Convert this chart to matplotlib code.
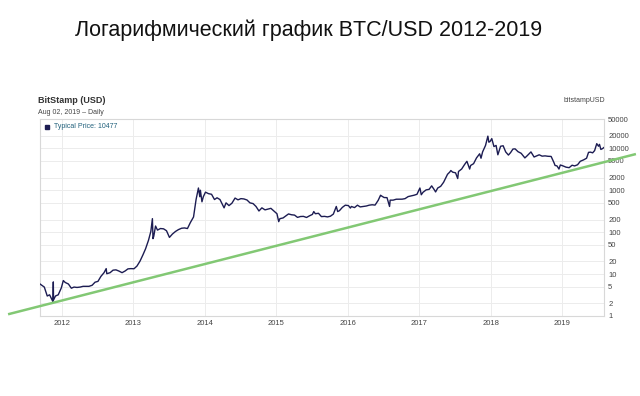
import pandas as pd
import matplotlib
matplotlib.use("Agg")
import matplotlib.pyplot as plt
import matplotlib.dates as mdates

plt.rcParams['font.family'] = ['Liberation Sans', 'DejaVu Sans']

# BTC/USD typical price (Bitstamp)
price_dates = [
    "2011-09-13", "2011-09-25", "2011-10-05", "2011-10-20", "2011-11-01", "2011-11-18",
    "2011-11-20", "2011-11-21", "2011-12-01", "2011-12-15", "2011-12-31",
    "2012-01-10", "2012-01-20", "2012-02-05", "2012-02-20", "2012-03-05", "2012-03-20",
    "2012-04-05", "2012-04-20", "2012-05-05", "2012-05-20", "2012-06-05", "2012-06-20",
    "2012-07-05", "2012-07-20", "2012-08-05", "2012-08-16", "2012-08-19", "2012-09-05",
    "2012-09-20", "2012-10-05", "2012-10-20", "2012-11-05", "2012-11-20", "2012-12-05",
    "2012-12-20", "2013-01-05", "2013-01-20", "2013-02-05", "2013-02-20", "2013-03-05",
    "2013-03-20", "2013-04-01", "2013-04-09", "2013-04-12", "2013-04-16", "2013-04-25",
    "2013-05-05", "2013-05-20", "2013-06-05", "2013-06-20", "2013-07-05", "2013-07-20",
    "2013-08-05", "2013-08-20", "2013-09-05", "2013-09-20", "2013-10-05", "2013-10-20",
    "2013-11-05", "2013-11-18", "2013-11-30", "2013-12-07", "2013-12-10", "2013-12-18",
    "2013-12-25", "2014-01-05", "2014-01-20", "2014-02-05", "2014-02-20", "2014-03-05",
    "2014-03-20", "2014-04-10", "2014-04-20", "2014-05-05", "2014-05-20", "2014-06-05",
    "2014-06-20", "2014-07-05", "2014-07-20", "2014-08-05", "2014-08-20", "2014-09-05",
    "2014-09-20", "2014-10-05", "2014-10-20", "2014-11-05", "2014-11-20", "2014-12-05",
    "2014-12-20", "2015-01-05", "2015-01-14", "2015-01-20", "2015-02-05", "2015-02-20",
    "2015-03-05", "2015-03-20", "2015-04-05", "2015-04-20", "2015-05-05", "2015-05-20",
    "2015-06-05", "2015-06-20", "2015-07-05", "2015-07-12", "2015-07-20", "2015-08-05",
    "2015-08-20", "2015-09-05", "2015-09-20", "2015-10-05", "2015-10-20", "2015-11-04",
    "2015-11-11", "2015-11-20", "2015-12-05", "2015-12-20", "2016-01-05", "2016-01-15",
    "2016-01-20", "2016-02-05", "2016-02-20", "2016-03-05", "2016-03-20", "2016-04-05",
    "2016-04-20", "2016-05-05", "2016-05-20", "2016-06-05", "2016-06-17", "2016-06-20",
    "2016-07-05", "2016-07-20", "2016-08-02", "2016-08-05", "2016-08-20", "2016-09-05",
    "2016-09-20", "2016-10-05", "2016-10-20", "2016-11-05", "2016-11-20", "2016-12-05",
    "2016-12-20", "2017-01-04", "2017-01-11", "2017-01-20", "2017-02-05", "2017-02-20",
    "2017-03-05", "2017-03-20", "2017-03-25", "2017-04-05", "2017-04-20", "2017-05-05",
    "2017-05-25", "2017-06-05", "2017-06-11", "2017-06-20", "2017-07-05", "2017-07-16",
    "2017-07-20", "2017-08-05", "2017-08-20", "2017-09-01", "2017-09-15", "2017-09-20",
    "2017-10-05", "2017-10-20", "2017-11-05", "2017-11-12", "2017-11-20", "2017-12-05",
    "2017-12-17", "2017-12-22", "2017-12-28", "2018-01-06", "2018-01-17", "2018-01-28",
    "2018-02-06", "2018-02-20", "2018-03-05", "2018-03-18", "2018-04-01", "2018-04-12",
    "2018-04-24", "2018-05-05", "2018-05-20", "2018-06-05", "2018-06-24", "2018-07-05",
    "2018-07-25", "2018-08-10", "2018-08-20", "2018-09-05", "2018-09-20", "2018-10-05",
    "2018-10-20", "2018-11-05", "2018-11-20", "2018-11-25", "2018-12-05", "2018-12-15",
    "2018-12-22", "2019-01-05", "2019-01-20", "2019-02-05", "2019-02-20", "2019-03-05",
    "2019-03-20", "2019-04-03", "2019-04-20", "2019-05-05", "2019-05-15", "2019-05-25",
    "2019-06-05", "2019-06-15", "2019-06-26", "2019-07-05", "2019-07-10", "2019-07-17",
    "2019-07-25", "2019-08-02",
]
price_values = [
    5.8, 5.3, 4.9, 3.0, 3.2, 2.2,
    6.5, 2.4, 3.0, 3.2, 4.7,
    7.0, 6.3, 5.8, 4.6, 4.9, 4.8,
    4.9, 5.1, 5.1, 5.1, 5.4, 6.4,
    6.7, 8.8, 10.8, 13.5, 10.2, 10.8,
    12.4, 12.6, 11.8, 10.8, 11.8, 13.3,
    13.5, 13.4, 15.5, 20.5, 29, 40,
    64, 104, 210, 70, 80, 140,
    112, 122, 120, 108, 75, 90,
    104, 115, 124, 126, 122, 170,
    230, 600, 1130, 700, 1000, 530,
    700, 900, 830, 800, 600, 660,
    600, 380, 500, 430, 490, 650,
    590, 630, 620, 585, 500, 480,
    410, 320, 380, 340, 355, 370,
    320, 275, 178, 210, 218, 245,
    272, 260, 255, 225, 236, 238,
    224, 245, 265, 310, 275, 282,
    235, 238, 231, 240, 270, 410,
    310, 325, 390, 440, 430, 375,
    410, 385, 440, 400, 410, 420,
    440, 450, 442, 575, 760, 740,
    670, 665, 410, 580, 580, 610,
    610, 612, 630, 705, 730, 760,
    800, 1130, 780, 895, 1020, 1050,
    1270, 1000, 910, 1130, 1240, 1550,
    2400, 2700, 2950, 2700, 2600, 1900,
    2800, 3200, 4100, 4900, 3200, 3900,
    4300, 5900, 7400, 5800, 8200, 11700,
    19500, 14000, 14500, 17000, 11000, 11700,
    7000, 11200, 11500, 8200, 6900, 7900,
    9600, 9700, 8300, 7600, 5900, 6600,
    8200, 6200, 6500, 7000, 6500, 6600,
    6450, 6400, 4500, 3900, 3800, 3200,
    4000, 3800, 3550, 3450, 3950, 3800,
    4050, 4900, 5300, 5800, 8000, 8100,
    7800, 8800, 12900, 11200, 12400, 9400,
    9800, 10477,
]

# green support line drawn over the chart
support_dates = ["2011-04-03", "2020-01-12"]
support_values = [1.1, 7300]

y_ticks = [1, 2, 5, 10, 20, 50, 100, 200, 500, 1000, 2000, 5000, 10000, 20000, 50000]
x_years = [2012, 2013, 2014, 2015, 2016, 2017, 2018, 2019]

dates = pd.to_datetime(price_dates)
sup_dates = pd.to_datetime(support_dates)

fig = plt.figure(figsize=(6.4, 3.96), dpi=100)
fig.patch.set_facecolor("white")
ax = fig.add_axes([40 / 640, 1 - 316 / 396, 564 / 640, 197 / 396])

ax.plot(dates, price_values, color="#1c1c52", lw=1.0, zorder=3)
ax.plot(sup_dates, support_values, color="#82c874", lw=1.8, clip_on=False, zorder=4,
        solid_capstyle="butt")

ax.set_yscale("log")
ax.set_ylim(1, 50000)
ax.set_xlim(pd.Timestamp("2011-09-13"), pd.Timestamp("2019-08-02"))

ax.yaxis.tick_right()
ax.set_yticks(y_ticks)
ax.set_yticklabels([str(v) for v in y_ticks])
ax.yaxis.set_minor_locator(matplotlib.ticker.NullLocator())
ax.set_xticks([pd.Timestamp(f"{y}-01-01") for y in x_years])
ax.xaxis.set_major_formatter(mdates.DateFormatter("%Y"))

ax.tick_params(axis="both", length=0, labelsize=5.5, labelcolor="#444444", pad=3)
ax.grid(True, color="#ececec", lw=0.7)
ax.set_axisbelow(True)
for s in ax.spines.values():
    s.set_color("#d8d8d8")
    s.set_linewidth(0.8)

fig.text(75 / 640, 1 - 30 / 396, "Логарифмический график BTC/USD 2012-2019",
         fontsize=15.5, color="#111111", va="center", ha="left")
fig.text(38 / 640, 1 - 101 / 396, "BitStamp (USD)", fontsize=6.5, fontweight="bold",
         color="#333333", va="center")
fig.text(38 / 640, 1 - 113 / 396, "Aug 02, 2019 \u2013 Daily", fontsize=5,
         color="#444444", va="center")
fig.text(605 / 640, 1 - 101 / 396, "bitstampUSD", fontsize=5, color="#444444",
         va="center", ha="right")
ax.plot([0.012], [0.96], marker="s", ms=3.5, color="#1c1c52", transform=ax.transAxes,
        clip_on=False)
ax.text(0.025, 0.96, "Typical Price: 10477", transform=ax.transAxes, fontsize=5,
        color="#1f5f7a", va="center")

fig.savefig("out.png", dpi=100)
